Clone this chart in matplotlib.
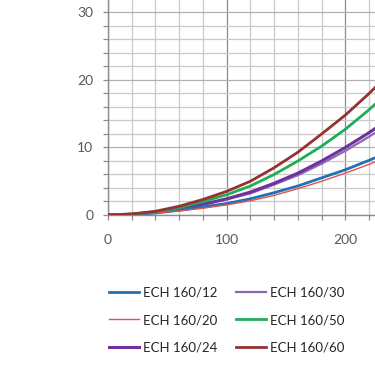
import matplotlib.pyplot as plt
from matplotlib.ticker import MultipleLocator

plt.rcParams['font.family'] = ['Lato', 'DejaVu Sans']

# data
x = [0, 20, 40, 60, 80, 100, 120, 140, 160, 180, 200, 220, 240]
ech_12 = [0, 0.1, 0.3, 0.7, 1.2, 1.7, 2.4, 3.3, 4.3, 5.5, 6.7, 8.1, 9.6]
ech_20 = [0, 0.1, 0.3, 0.6, 1.0, 1.5, 2.1, 2.9, 3.9, 5.0, 6.2, 7.5, 9.0]
ech_24 = [0, 0.1, 0.4, 0.9, 1.6, 2.4, 3.4, 4.7, 6.2, 8.0, 10.0, 12.2, 14.6]
ech_30 = [0, 0.1, 0.4, 0.9, 1.5, 2.3, 3.2, 4.5, 5.9, 7.6, 9.5, 11.6, 13.9]
ech_50 = [0, 0.15, 0.5, 1.1, 2.0, 3.0, 4.3, 6.0, 8.0, 10.2, 12.7, 15.6, 18.8]
ech_60 = [0, 0.15, 0.55, 1.3, 2.3, 3.5, 5.0, 7.0, 9.3, 12.0, 14.8, 18.0, 21.5]

labels = ['ECH 160/12', 'ECH 160/20', 'ECH 160/24', 'ECH 160/30', 'ECH 160/50', 'ECH 160/60']
series = [ech_12, ech_20, ech_24, ech_30, ech_50, ech_60]
colors = ['#2470b5', '#e0524c', '#7030a0', '#8a6ab0', '#1fae55', '#953131']
widths = [2.0, 1.0, 2.2, 1.6, 2.0, 2.0]

fig = plt.figure(figsize=(3.75, 3.73), dpi=100)
ax = fig.add_axes([108 / 375, 158 / 373, 1 - 108 / 375, 215 / 373])

# draw order: thin ones under thick ones
for i in [3, 2, 0, 1, 4, 5]:
    ax.plot(x, series[i], color=colors[i], lw=widths[i], label=labels[i], zorder=3)

ax.set_xlim(0, 225)
ax.set_ylim(0, 31.85)
ax.xaxis.set_major_locator(MultipleLocator(100))
ax.xaxis.set_minor_locator(MultipleLocator(20))
ax.yaxis.set_major_locator(MultipleLocator(10))
ax.yaxis.set_minor_locator(MultipleLocator(2))

ax.grid(which='minor', color='#c9c9c9', lw=0.9)
ax.grid(which='major', axis='x', color='#8c8c8c', lw=0.9)
ax.grid(which='major', axis='y', color='#b0b0b0', lw=0.9)
ax.set_axisbelow(True)

for s in ['top', 'right']:
    ax.spines[s].set_visible(False)
for s in ['left', 'bottom']:
    ax.spines[s].set_color('#8c8c8c')
    ax.spines[s].set_linewidth(1.0)

ax.tick_params(which='both', direction='out', length=3.5, width=0.9, color='#8c8c8c',
               labelcolor='#595959', labelsize=10)
ax.tick_params(axis='y', which='major', pad=7)
ax.tick_params(axis='x', which='major', pad=10)

handles, labs = ax.get_legend_handles_labels()
order = [labs.index(l) for l in labels]
fig.legend([handles[k] for k in order], labels, ncol=2, frameon=False,
           loc='upper left', bbox_to_anchor=(97 / 375, 1 - 275 / 373),
           fontsize=9.5, handlelength=2.3, handletextpad=0.3, columnspacing=1.4,
           labelspacing=1.15, labelcolor='#262626')

fig.savefig('out.png', dpi=100)
